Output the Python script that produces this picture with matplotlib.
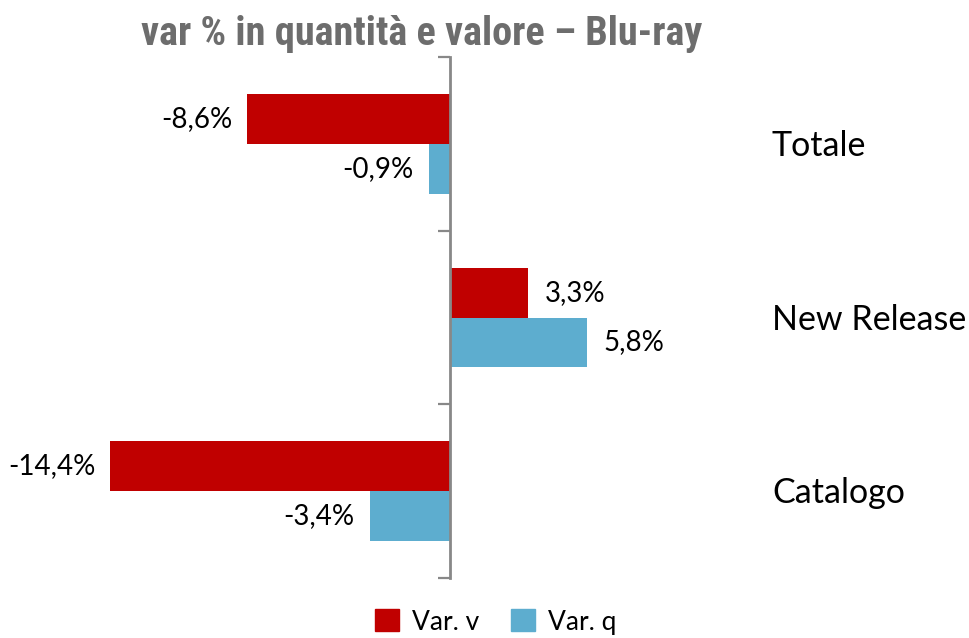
import matplotlib.pyplot as plt
from matplotlib.patches import Patch

# === Data ===
categories = ["Totale", "New Release", "Catalogo"]
var_v = [-8.6, 3.3, -14.4]
var_q = [-0.9, 5.8, -3.4]
series_names = ["Var. v", "Var. q"]

RED = "#C00000"
BLUE = "#5DADCF"
GREY = "#888888"

# === Figure ===
fig = plt.figure(figsize=(9.69, 6.38), dpi=100)
ax = fig.add_axes([20 / 969, 60 / 638, 740 / 969, 521 / 638])

px_per_unit = 23.6
ax.set_xlim((20 - 450) / px_per_unit, (760 - 450) / px_per_unit)
ax.set_ylim(0, 3)

bar_h = 0.286
centers = [2.5, 1.5, 0.5]
for c, v, q in zip(centers, var_v, var_q):
    ax.barh(c + bar_h / 2, v, height=bar_h, color=RED)
    ax.barh(c - bar_h / 2, q, height=bar_h, color=BLUE)
    for val, y in [(v, c + bar_h / 2), (q, c - bar_h / 2)]:
        txt = f"{val:.1f}%".replace(".", ",")
        off = 17 if val > 0 else -15
        ax.annotate(txt, (val, y), xytext=(off, 0), textcoords="offset pixels",
                    ha="left" if val > 0 else "right", va="center",
                    fontsize=20, family="Lato")

# category labels on the right
for c, name in zip(centers, categories):
    ax.annotate(name, (0, c), xycoords=("axes fraction", "data"),
                xytext=(752, -2), textcoords="offset pixels",
                ha="left", va="center", fontsize=24.5, family="Lato")

# axis styling
for s in ["top", "right", "bottom"]:
    ax.spines[s].set_visible(False)
ax.spines["left"].set_position(("data", 0))
ax.spines["left"].set_color(GREY)
ax.spines["left"].set_linewidth(2)
ax.set_xticks([])
ax.set_yticks([0, 1, 2, 3])
ax.set_yticklabels([])
ax.tick_params(axis="y", direction="out", length=8.5, width=1.6, color=GREY)

# title
fig.text(422 / 969, 1 - 34 / 638, "var % in quantità e valore – Blu-ray",
         ha="center", va="center", fontsize=29, fontweight="heavy",
         color="#6D6D6D", family=["Roboto Condensed", "Lato"])

# legend
handles = [Patch(color=RED, label=series_names[0]),
           Patch(color=BLUE, label=series_names[1])]
fig.legend(handles=handles, loc="center", bbox_to_anchor=(496 / 969, 1 - 622 / 638),
           ncol=2, frameon=False, handlelength=0.9, handleheight=0.9,
           handletextpad=0.5, columnspacing=1.2, prop={"family": "Lato", "size": 19})

fig.savefig("out.png", dpi=100)
